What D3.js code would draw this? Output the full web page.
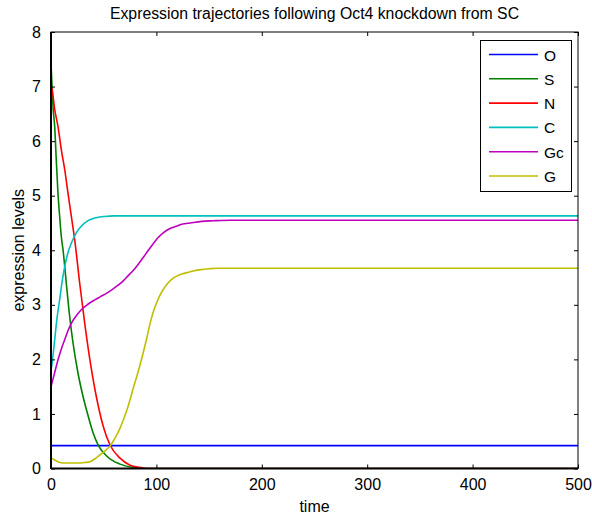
<!DOCTYPE html>
<html><head><meta charset="utf-8">
<script src="https://cdn.jsdelivr.net/npm/d3@7"></script>
<style>body{margin:0;background:#fff}svg{display:block;font-family:"Liberation Sans",Arial,sans-serif}</style>
</head><body><svg id="c" width="592" height="514"></svg>
<script>
const title = "Expression trajectories following Oct4 knockdown from SC";
const xLabel = "time";
const yLabel = "expression levels";
const xTicks = [0, 100, 200, 300, 400, 500];
const yTicks = [0, 1, 2, 3, 4, 5, 6, 7, 8];
const seriesNames = ["O", "S", "N", "C", "Gc", "G"];
const seriesColors = ["#0000ff", "#008000", "#ff0000", "#00bfbf", "#bf00bf", "#bfbf00"];

const O = [[0,0.42],[500,0.42]];
const S = [[0,7.43],[1,7.0],[2,6.6],[3.5,6.27],[5,5.66],[6.6,5.05],[8.2,4.62],[9.8,4.25],[11.4,4.01],[14.5,3.40],[17.7,2.79],[20.9,2.30],[25.6,1.75],[30.4,1.32],[35,0.98],[40,0.65],[45,0.42],[52.8,0.23],[65.5,0.08],[78,0.02],[88,0],[500,0]];
const N = [[0,7.0],[1,6.95],[3.5,6.58],[6.6,6.27],[9.8,5.84],[13,5.48],[16.1,5.05],[19.3,4.62],[22.5,4.19],[27.2,3.40],[32,2.66],[36.7,2.02],[43,1.32],[49.6,0.77],[56,0.43],[65.5,0.19],[75,0.06],[84,0.02],[92,0],[500,0]];
const C = [[0,1.78],[1.5,2.0],[3.5,2.36],[6,2.8],[8.2,3.09],[10.5,3.42],[13,3.70],[16,3.95],[19.3,4.13],[24,4.32],[28.7,4.44],[34,4.53],[41.5,4.59],[51,4.62],[60,4.63],[500,4.63]];
const Gc = [[0,1.5],[3,1.72],[6.6,1.99],[10,2.2],[13,2.36],[16,2.52],[19.3,2.66],[24,2.8],[28.7,2.91],[35,3.01],[41.5,3.09],[47,3.15],[52.5,3.21],[58,3.28],[63,3.35],[68.6,3.44],[73,3.53],[78,3.63],[83,3.75],[87.6,3.87],[92,3.99],[97,4.12],[101.5,4.23],[106.5,4.32],[112,4.39],[119,4.44],[125,4.48],[132,4.50],[143,4.53],[154,4.54],[170,4.55],[500,4.55]];
const G = [[0,0.2],[3,0.16],[7,0.12],[12,0.1],[25,0.1],[32,0.11],[37,0.125],[42,0.18],[46.5,0.25],[51,0.32],[56,0.41],[59,0.5],[62.3,0.61],[65.5,0.74],[68.6,0.89],[72,1.07],[75,1.26],[78,1.47],[81.3,1.68],[84.5,1.9],[87.6,2.13],[91,2.4],[94,2.66],[97,2.87],[100,3.03],[103,3.16],[106.5,3.28],[111,3.4],[116,3.49],[122,3.55],[129,3.59],[135,3.62],[141,3.64],[150,3.66],[157,3.67],[500,3.67]];
const seriesData = [O, S, N, C, Gc, G];

const svg = d3.select("#c");
const L = 51, R = 578, T = 32, B = 468.5;
const x = d3.scaleLinear().domain([0, 500]).range([L, R]);
const y = d3.scaleLinear().domain([0, 8]).range([B, T]);

svg.append("rect").attr("width", 592).attr("height", 514).attr("fill", "#fff");

// lines
const line = d3.line().x(d => x(d[0])).y(d => y(d[1])).curve(d3.curveMonotoneX);
svg.append("clipPath").attr("id", "pc").append("rect")
  .attr("x", L).attr("y", T - 2).attr("width", R - L).attr("height", B - T + 2);
const plot = svg.append("g").attr("clip-path", "url(#pc)");
seriesData.forEach((d, i) => {
  plot.append("path").datum(d).attr("d", line).attr("fill", "none")
    .attr("stroke", seriesColors[i]).attr("stroke-width", 1.6);
});

// frame
svg.append("rect").attr("x", L).attr("y", T).attr("width", R - L).attr("height", B - T)
  .attr("fill", "none").attr("stroke", "#000").attr("stroke-width", 1);

// axes (inside ticks)
const xAxis = d3.axisBottom(x).tickValues(xTicks).tickSize(-4).tickPadding(10).tickFormat(d3.format("d"));
const gx = svg.append("g").attr("transform", `translate(0,${B})`).call(xAxis);
const yAxis = d3.axisLeft(y).tickValues(yTicks).tickSize(-4).tickPadding(10).tickFormat(d3.format("d"));
const gy = svg.append("g").attr("transform", `translate(${L},0)`).call(yAxis);
const xTop = d3.axisTop(x).tickValues(xTicks).tickSize(-4).tickFormat("");
svg.append("g").attr("transform", `translate(0,${T})`).call(xTop);
const yRight = d3.axisRight(y).tickValues(yTicks).tickSize(-4).tickFormat("");
svg.append("g").attr("transform", `translate(${R},0)`).call(yRight);
svg.selectAll(".domain").remove();
svg.selectAll(".tick line").attr("stroke", "#000");
[gx, gy].forEach(g => g.selectAll("text").attr("font-size", 16).attr("fill", "#000")
  .attr("font-family", '"Liberation Sans", Arial, sans-serif'));
svg.append("line").attr("x1", L).attr("x2", L).attr("y1", T).attr("y2", B + 0.5).attr("stroke", "#000").attr("stroke-width", 2);
svg.append("line").attr("x1", L).attr("x2", R).attr("y1", B).attr("y2", B).attr("stroke", "#000").attr("stroke-width", 2);

// titles
svg.append("text").attr("x", (L + R) / 2).attr("y", 19).attr("text-anchor", "middle")
  .attr("font-size", 15.8).text(title);
svg.append("text").attr("x", (L + R) / 2).attr("y", 512).attr("text-anchor", "middle")
  .attr("font-size", 16).text(xLabel);
svg.append("text").attr("transform", `translate(24,${(T + B) / 2}) rotate(-90)`)
  .attr("text-anchor", "middle").attr("font-size", 16).text(yLabel);

// legend
const lg = svg.append("g");
lg.append("rect").attr("x", 480.5).attr("y", 40.5).attr("width", 91).attr("height", 151)
  .attr("fill", "#fff").attr("stroke", "#000").attr("stroke-width", 1);
seriesNames.forEach((n, i) => {
  const yy = 54.5 + i * 24.3;
  lg.append("line").attr("x1", 489).attr("x2", 538).attr("y1", yy).attr("y2", yy)
    .attr("stroke", seriesColors[i]).attr("stroke-width", 1.6);
  lg.append("text").attr("x", 544).attr("y", yy + 6).attr("font-size", 15.5).text(n);
});
</script></body></html>
